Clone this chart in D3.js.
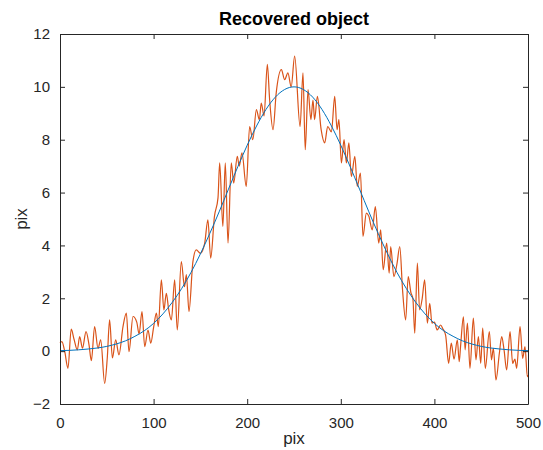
<!DOCTYPE html>
<html>
<head>
<meta charset="utf-8">
<script src="https://cdn.jsdelivr.net/npm/d3@7"></script>
<style>
    body { margin: 0; background: #fff; }
    text { font-family: "Liberation Sans", Arial, sans-serif; fill: #262626; }
</style>
</head>
<body>
<svg id="chart" width="543" height="450"></svg>
<script>
// smooth object (blue), sampled every 10 pix
var smoothX = [0, 10, 20, 30, 40, 50, 60, 70, 80, 90, 100, 110, 120, 130, 140, 150, 160, 170, 180, 190, 200,
    210, 220, 230, 240, 250, 260, 270, 280, 290, 300, 310, 320, 330, 340, 350, 360, 370, 380, 390, 400,
    410, 420, 430, 440, 450, 460, 470, 480, 490, 500];
var smoothY = [0.02, 0.03, 0.05, 0.08, 0.12, 0.18, 0.27, 0.39, 0.56, 0.77, 1.05, 1.41, 1.85, 2.37, 2.98, 3.68,
    4.45, 5.27, 6.13, 6.98, 7.79, 8.52, 9.14, 9.61, 9.90, 10.0, 9.90, 9.61, 9.14, 8.52, 7.79, 6.98, 6.13,
    5.27, 4.45, 3.68, 2.98, 2.37, 1.85, 1.41, 1.05, 0.77, 0.56, 0.39, 0.27, 0.18, 0.12, 0.08, 0.05, 0.03, 0.02];

// noisy recovered object (orange), read at its peaks and troughs
var noisyX = [0, 2, 5, 8.5, 12, 15, 18.5, 21, 24, 27.8, 31, 33.5, 37, 40.6, 43.5, 47.7, 50.5, 53, 56, 59.5,
    63, 67.3, 70.9, 73.7, 78, 82, 84.5, 87.6, 90.5, 94, 97, 100, 103, 105, 108.3, 111, 113.6, 116, 119,
    122.5, 125.3, 129.6, 133, 135, 137.8, 142, 145.6, 150, 154.6, 158, 161, 165, 168.8, 170.6, 174, 176.6,
    179.5, 183, 185.6, 189.4, 191.5, 194.4, 199, 202.6, 206, 209.8, 213, 215, 218, 221.5, 224, 227.6, 231,
    236.5, 240, 243.5, 247, 250.7, 256.5, 259.6, 262, 265, 268, 270.3, 272, 275, 279, 282.8, 286, 290,
    293.5, 296, 298, 300.6, 303.5, 306, 308.6, 311.3, 315, 317.6, 321, 323.7, 327.3, 330, 333.6, 336.9,
    340.5, 342.6, 345.3, 349, 351.7, 353.3, 356.7, 360, 363, 366, 369.3, 372, 375, 377, 379, 381.8, 384.2,
    387, 389.6, 392.5, 395, 397.4, 400, 403, 406.6, 409, 412, 415.2, 418, 421, 424.5, 426.5, 428, 431,
    432.8, 435.3, 438, 441.6, 444.4, 447, 449.5, 451.6, 454.4, 458.7, 461, 463, 465.8, 469.4, 471.9, 474.4,
    477.2, 480.8, 483.6, 486, 487.9, 491.5, 494.3, 496.8, 499.3, 500];
var noisyY = [0.3, 0.36, 0.0, -0.65, 0.83, 0.45, 0.05, 0.55, 0.11, 0.74, 0.24, -0.36, 0.93, 0.1, 0.43, -1.22,
    -0.26, 1.18, -0.26, 0.43, -0.14, 0.93, 1.44, -0.02, 1.31, 1.1, 0.65, 1.5, 0.17, 0.8, 0.3, 0.9, 1.44,
    0.93, 2.7, 1.56, 2.19, 1.6, 1.18, 2.7, 0.8, 3.39, 2.44, 2.9, 1.5, 3.39, 3.83, 3.7, 4.09, 4.97, 3.52,
    5.1, 5.8, 7.12, 4.72, 7.12, 4.09, 7.12, 6.36, 7.37, 7.0, 7.5, 6.23, 8.5, 8.0, 9.14, 8.76, 9.39, 8.9,
    10.85, 9.5, 8.38, 9.77, 10.65, 10.27, 10.53, 10.0, 11.16, 8.5, 10.53, 7.62, 9.9, 8.76, 9.5, 8.76, 9.64,
    8.38, 7.88, 8.5, 8.3, 9.64, 8.38, 8.76, 7.12, 8.0, 7.12, 7.88, 6.61, 7.37, 6.23, 6.74, 4.34, 5.22, 5.1,
    4.59, 5.47, 4.09, 4.59, 3.08, 4.09, 2.95, 3.96, 2.82, 3.3, 3.96, 2.3, 1.18, 2.82, 2.2, 2.0, 0.68, 3.33,
    1.56, 2.0, 2.7, 1.06, 1.81, 1.06, 1.1, 0.8, 0.99, 0.85, 0.6, -0.46, 0.3, -0.3, 0.43, -0.4, 0.2, 1.3,
    0.05, 1.06, -0.65, 1.25, -0.33, 0.55, -0.46, 0.87, -0.65, 0.74, -0.33, 0.11, -1.09, -0.08, 0.55, 0.05,
    -0.71, 0.74, -0.46, -0.3, -0.65, 0.93, -0.27, 0.17, -0.97, -0.9];

var xTicks = [0, 100, 200, 300, 400, 500];
var yTicks = [-2, 0, 2, 4, 6, 8, 10, 12];

var svg = d3.select("svg#chart"),
    plotLeft = 60, plotRight = 528, plotTop = 34, plotBottom = 404;

var x = d3.scaleLinear().domain([0, 500]).range([plotLeft, plotRight]);
var y = d3.scaleLinear().domain([-2, 12]).range([plotBottom, plotTop]);

var axisColor = "#262626";

// lines
var blueLine = d3.line()
    .x((d, i) => x(smoothX[i]))
    .y(d => y(d))
    .curve(d3.curveNatural);

var orangeLine = d3.line()
    .x((d, i) => x(noisyX[i]))
    .y(d => y(d))
    .curve(d3.curveMonotoneX);

svg.append("path")
    .attr("d", orangeLine(noisyY))
    .attr("fill", "none")
    .attr("stroke", "#D95319")
    .attr("stroke-width", 1.2)
    .attr("stroke-linejoin", "round");

svg.append("path")
    .attr("d", blueLine(smoothY))
    .attr("fill", "none")
    .attr("stroke", "#0072BD")
    .attr("stroke-width", 1);

// axes, ticks inside like matlab
var xAxis = d3.axisBottom(x).tickValues(xTicks).tickSizeInner(-5).tickSizeOuter(0).tickPadding(10);
var yAxis = d3.axisLeft(y).tickValues(yTicks).tickSizeInner(-5).tickSizeOuter(0).tickPadding(10);
var xTop = d3.axisTop(x).tickValues(xTicks).tickSizeInner(-5).tickSizeOuter(0).tickFormat("");
var yRight = d3.axisRight(y).tickValues(yTicks).tickSizeInner(-5).tickSizeOuter(0).tickFormat("");

var gx = svg.append("g").attr("transform", "translate(0," + plotBottom + ")").call(xAxis);
var gy = svg.append("g").attr("transform", "translate(" + plotLeft + ",0)").call(yAxis);
var gt = svg.append("g").attr("transform", "translate(0," + plotTop + ")").call(xTop);
var gr = svg.append("g").attr("transform", "translate(" + plotRight + ",0)").call(yRight);

[gx, gy, gt, gr].forEach(g => {
    g.selectAll("path").attr("stroke", axisColor).attr("stroke-width", 1);
    g.selectAll("line").attr("stroke", axisColor).attr("stroke-width", 1);
    g.selectAll("text")
        .style("font-family", "'Liberation Sans', Arial, sans-serif")
        .style("font-size", "15px")
        .attr("fill", axisColor);
});
gx.selectAll("text").attr("dy", "0.9em");

// title and labels
svg.append("text")
    .attr("x", (plotLeft + plotRight) / 2)
    .attr("y", 25)
    .attr("text-anchor", "middle")
    .style("font-size", "18px")
    .style("font-weight", "bold")
    .style("fill", "#000")
    .text("Recovered object");

svg.append("text")
    .attr("x", (plotLeft + plotRight) / 2)
    .attr("y", 444)
    .attr("text-anchor", "middle")
    .style("font-size", "17px")
    .text("pix");

svg.append("text")
    .attr("transform", "translate(27," + (plotTop + plotBottom) / 2 + ") rotate(-90)")
    .attr("text-anchor", "middle")
    .style("font-size", "17px")
    .text("pix");
</script>
</body>
</html>
